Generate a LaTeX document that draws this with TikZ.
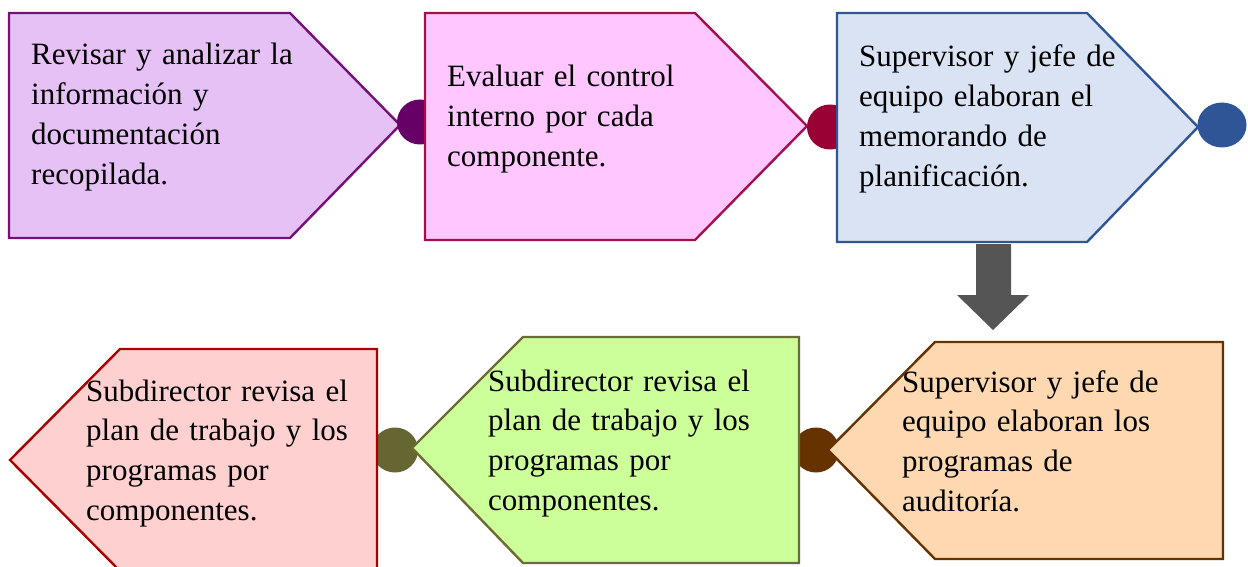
\documentclass[tikz,border=0pt]{standalone}
\usepackage{fontspec}
\setmainfont{Liberation Serif}
\definecolor{f1}{HTML}{E5C1F5}\definecolor{b1}{HTML}{760F78}\definecolor{c1}{HTML}{660066}
\definecolor{f2}{HTML}{FFC6FF}\definecolor{b2}{HTML}{A3104C}\definecolor{c2}{HTML}{990033}
\definecolor{f3}{HTML}{DAE3F3}\definecolor{b3}{HTML}{2F5597}\definecolor{c3}{HTML}{2F5597}
\definecolor{f4}{HTML}{FDD8B0}\definecolor{b4}{HTML}{663300}\definecolor{c4}{HTML}{663300}
\definecolor{f5}{HTML}{CCFF99}\definecolor{b5}{HTML}{6B6B33}\definecolor{c5}{HTML}{666633}
\definecolor{f6}{HTML}{FFD0D0}\definecolor{b6}{HTML}{AA0000}
\definecolor{arr}{HTML}{555555}
\tikzset{
  shp/.style={line width=2.4pt, line join=miter},
  txt/.style={anchor=base west, inner sep=0pt, text width=330pt, align=left,
    font=\fontsize{31}{39.7}\selectfont},
  dot/.style={ellipse, minimum width=46pt, minimum height=45pt, inner sep=0pt, draw=none}
}
\usetikzlibrary{shapes.geometric}
\begin{document}
\begin{tikzpicture}[x=1pt,y=-1pt]
\useasboundingbox (0,0) rectangle (1248,567);
\clip (0,0) rectangle (1248,567);
% top row
\draw[shp, fill=f1, draw=b1] (9,13) -- (290,13) -- (400,125) -- (290,238) -- (9,238) -- cycle;
\node[dot, fill=c1] (d1) at (420,122) {};
\draw[shp, fill=f2, draw=b2] (425,13) -- (695,13) -- (807,126) -- (695,240) -- (425,240) -- cycle;
\node[dot, fill=c2] (d2) at (830,127) {};
\draw[shp, fill=f3, draw=b3] (837,13) -- (1087,13) -- (1198,127) -- (1087,242) -- (837,242) -- cycle;
\node[dot, fill=c3, minimum width=49pt] (d3) at (1222,125) {};
% down arrow
\fill[arr] (976,244) -- (1011,244) -- (1011,295) -- (1029,295) -- (993,330) -- (957,295) -- (976,295) -- cycle;
% bottom row
\node[dot, fill=c4] (d4) at (816,450) {};
\node[dot, fill=c5] (d5) at (395,450) {};
\draw[shp, fill=f4, draw=b4] (1223,342) -- (935,342) -- (828,450) -- (935,559) -- (1223,559) -- cycle;
\draw[shp, fill=f5, draw=b5] (799,337) -- (523,337) -- (412,448) -- (523,563) -- (799,563) -- cycle;
\draw[shp, fill=f6, draw=b6] (377,349) -- (120,349) -- (10,460) -- (120,571) -- (377,571) -- cycle;
% texts
\node[txt] (t1) at (31,65) {Revisar y analizar la\\información y\\documentación\\recopilada.};
\node[txt] (t2) at (447,87) {Evaluar el control\\interno por cada\\componente.};
\node[txt] (t3) at (859,67) {Supervisor y jefe de\\equipo elaboran el\\memorando de\\planificación.};
\node[txt] (t4) at (902,392) {Supervisor y jefe de\\equipo elaboran los\\programas de\\auditoría.};
\node[txt] (t5) at (488,391) {Subdirector revisa el\\plan de trabajo y los\\programas por\\componentes.};
\node[txt] (t6) at (86,401) {Subdirector revisa el\\plan de trabajo y los\\programas por\\componentes.};
\end{tikzpicture}
\end{document}
